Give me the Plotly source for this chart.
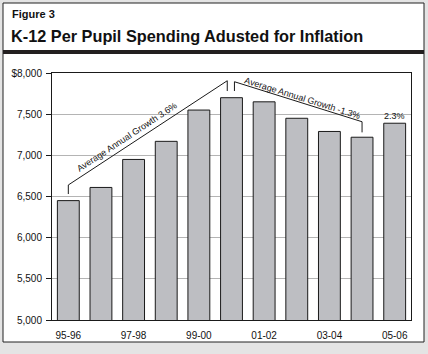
import plotly.graph_objects as go

categories = ["95-96", "96-97", "97-98", "98-99", "99-00", "00-01",
              "01-02", "02-03", "03-04", "04-05", "05-06"]
spending = [6450, 6610, 6950, 7170, 7550, 7700, 7650, 7450, 7290, 7220, 7390]
x_tick_labels = ["95-96", "97-98", "99-00", "01-02", "03-04", "05-06"]
y_tick_values = [5000, 5500, 6000, 6500, 7000, 7500, 8000]
y_tick_labels = ["5,000", "5,500", "6,000", "6,500", "7,000", "7,500", "$8,000"]
growth_labels = ["Average Annual Growth 3.6%", "Average Annual Growth -1.3%", "2.3%"]

W, H = 428, 354
L, R, T, B = 52, 17, 73, 34
PW, PH = W - L - R, H - T - B


def px(x):
    return (x - L) / PW


def py(y):
    return (H - B - y) / PH


FONT = "Liberation Sans, Arial, sans-serif"

fig = go.Figure()
fig.add_trace(go.Bar(
    x=categories, y=spending,
    marker=dict(color="#bdbec2", line=dict(color="#1a1a1a", width=1)),
    hoverinfo="x+y",
))

shapes = []
# outer frame
shapes.append(dict(type="rect", xref="paper", yref="paper",
                   x0=px(3), x1=px(424), y0=py(342), y1=py(3),
                   fillcolor="white", line=dict(color="#222", width=1), layer="below"))
# header rule
shapes.append(dict(type="rect", xref="paper", yref="paper",
                   x0=px(3), x1=px(424), y0=py(54), y1=py(50),
                   fillcolor="#231f20", line=dict(width=0), layer="above"))
# growth brackets in data coordinates
line_style = dict(color="#1a1a1a", width=1)
shapes.append(dict(type="path", xref="x", yref="y",
                   path="M 0,6530 L 0,6640 L 4.87,7906 L 4.87,7781",
                   line=line_style))
shapes.append(dict(type="path", xref="x", yref="y",
                   path="M 5.09,7781 L 5.09,7894 L 9,7408 L 9,7279",
                   line=line_style))

annotations = [
    dict(text="<b>Figure 3</b>", xref="paper", yref="paper", x=px(10), y=py(14),
         xanchor="left", yanchor="middle", showarrow=False,
         font=dict(family=FONT, size=11, color="#111")),
    dict(text="<b>K-12 Per Pupil Spending Adusted for Inflation</b>", xref="paper", yref="paper",
         x=px(9), y=py(36), xanchor="left", yanchor="middle", showarrow=False,
         font=dict(family=FONT, size=16.3, color="#111")),
    dict(text=growth_labels[0], xref="paper", yref="paper", x=px(127), y=py(137),
         xanchor="center", yanchor="middle", showarrow=False, textangle=-33.5,
         font=dict(family=FONT, size=9, color="#111")),
    dict(text=growth_labels[1], xref="paper", yref="paper", x=px(302), y=py(98),
         xanchor="center", yanchor="middle", showarrow=False, textangle=17.4,
         font=dict(family=FONT, size=9, color="#111")),
    dict(text=growth_labels[2], x=categories[10], y=spending[10], xref="x", yref="y",
         yshift=7, xanchor="center", yanchor="middle", showarrow=False,
         font=dict(family=FONT, size=9, color="#111")),
]

fig.update_layout(
    width=W, height=H,
    margin=dict(l=L, r=R, t=T, b=B, pad=0),
    paper_bgcolor="#e4e4e4",
    plot_bgcolor="white",
    bargap=0.33,
    showlegend=False,
    shapes=shapes,
    annotations=annotations,
    font=dict(family=FONT, size=10, color="#111"),
)
fig.update_xaxes(
    type="category", range=[-0.5, 10.5],
    tickvals=x_tick_labels, ticktext=x_tick_labels,
    showline=True, linecolor="#1a1a1a", linewidth=1, mirror=True,
    ticks="outside", ticklen=6, tickcolor="rgba(0,0,0,0)",
    showgrid=False, tickfont=dict(size=10),
)
fig.update_yaxes(
    range=[5000, 8000], tickvals=y_tick_values, ticktext=y_tick_labels,
    showline=True, linecolor="#1a1a1a", linewidth=1, mirror=True,
    ticks="outside", ticklen=5, tickcolor="#1a1a1a",
    showgrid=True, gridcolor="#b4b4b4", gridwidth=1, zeroline=False,
    tickfont=dict(size=10), ticklabelstandoff=2,
)

fig.write_html("out.html")
